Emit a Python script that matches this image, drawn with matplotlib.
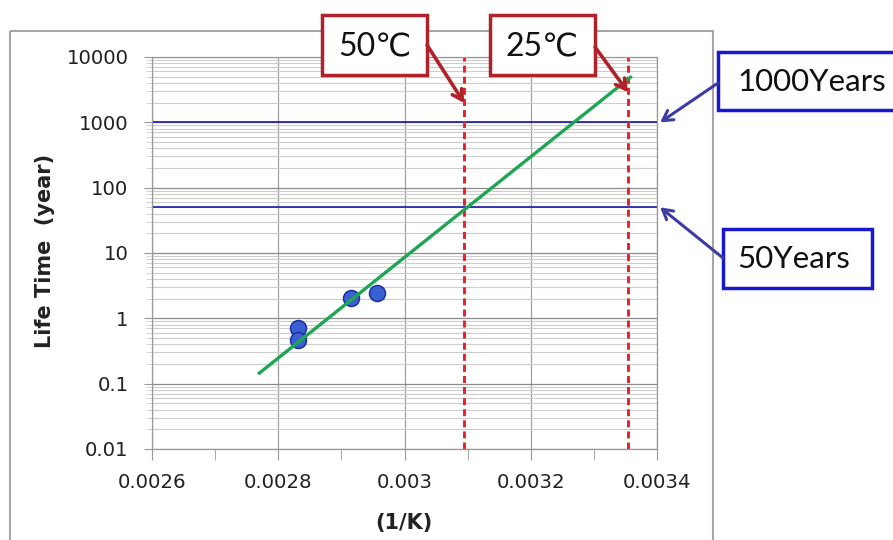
import matplotlib.pyplot as plt
from matplotlib.patches import Rectangle
from matplotlib.ticker import FixedLocator, NullFormatter, LogLocator

# measured points (1/K vs lifetime in years)
inv_temp = [0.002832, 0.002832, 0.002915, 0.002957]
life_years = [0.70, 0.47, 2.05, 2.4]

# fitted Arrhenius line (end points)
fit_x = [0.00277, 0.003358]
fit_y = [0.145, 4900]

# reference temperatures (1/K) and lifetimes (years)
temp_lines = [1 / 323.15, 1 / 298.15]
temp_labels = ['50℃', '25℃']
temp_arrow_y = [1980, 2900]
limit_years = [1000, 50]
limit_labels = ['1000Years', '50Years']

xticks = [0.0026, 0.0028, 0.0030, 0.0032, 0.0034]
xticklabels = ['0.0026', '0.0028', '0.003', '0.0032', '0.0034']
yticks = [0.01, 0.1, 1, 10, 100, 1000, 10000]
yticklabels = ['0.01', '0.1', '1', '10', '100', '1000', '10000']

W, H = 893, 540
fig = plt.figure(figsize=(W / 100, H / 100), dpi=100)
ax = fig.add_axes([152 / W, 1 - 449 / H, (657 - 152) / W, (449 - 57) / H])

ax.set_yscale('log')
ax.set_xlim(0.0026, 0.0034)
ax.set_ylim(0.01, 10000)

ax.xaxis.set_major_locator(FixedLocator(xticks))
ax.set_xticklabels(xticklabels)
ax.xaxis.set_minor_locator(FixedLocator([0.0027, 0.0029, 0.0031, 0.0033]))
ax.yaxis.set_major_locator(FixedLocator(yticks))
ax.set_yticklabels(yticklabels)
ax.yaxis.set_minor_locator(LogLocator(base=10, subs=range(2, 10), numticks=20))
ax.yaxis.set_minor_formatter(NullFormatter())

ax.tick_params(axis='both', which='major', labelsize=14.2, colors='#999999',
               labelcolor='#222222', width=0.8)
ax.tick_params(axis='x', which='both', direction='out', length=8, pad=9,
               colors='#999999', labelcolor='#222222')
ax.tick_params(axis='y', which='major', direction='out', length=6, pad=11)
ax.tick_params(axis='y', which='minor', direction='out', length=4, colors='#cccccc')

ax.grid(True, which='major', axis='y', color='#8c8c8c', lw=0.9)
ax.grid(True, which='minor', axis='y', color='#cdcdcd', lw=0.8)
ax.grid(True, which='major', axis='x', color='#a0a0a0', lw=0.9)
for s in ax.spines.values():
    s.set_color('#999999')
    s.set_linewidth(0.9)
ax.set_axisbelow(True)

for v in limit_years:
    ax.axhline(v, color='#1a1aa6', lw=1.2, zorder=2)
for v in temp_lines:
    ax.axvline(v, color='#e8202a', lw=2.1, dashes=(2.4, 1.4), zorder=2)

ax.plot(inv_temp, life_years, 'o', ms=11.5, mfc='#3b60d2', mec='#1a30a0',
        mew=1.1, zorder=3)
ax.plot(fit_x, fit_y, color='#1ea653', lw=2.4, zorder=4)

fig.text(45 / W, 1 - 251 / H, 'Life Time  (year)', rotation=90, ha='center',
         va='center', fontsize=15, fontweight='bold', color='#222222')
fig.text(404 / W, 1 - 523 / H, '(1/K)', ha='center', va='center',
         fontsize=15, fontweight='bold', color='#222222')

# overlay in pixel coordinates for the frame, boxes and arrows
ov = fig.add_axes([0, 0, 1, 1], zorder=5)
ov.set_xlim(0, W)
ov.set_ylim(H, 0)
ov.axis('off')
ov.add_patch(Rectangle((10, 31), 703, 520, fill=False, ec='#a6a6a6', lw=1.5))

box_font = ['Lato', 'DejaVu Sans']
red = '#b0222a'
temp_boxes = [(322, 15, 105, 60), (490, 15, 105, 60)]
temp_starts = [(427, 45), (595, 47)]
for lab, xv, yv, (bx, by, bw, bh), st in zip(temp_labels, temp_lines, temp_arrow_y,
                                           temp_boxes, temp_starts):
    ov.add_patch(Rectangle((bx, by), bw, bh, fc='white', ec=red, lw=2.5))
    ov.text(bx + bw / 2, by + bh / 2 + 1, lab, ha='center', va='center',
            fontsize=23, family=box_font, color='#111111')
    ov.annotate('', xy=(xv, yv), xycoords=ax.transData, xytext=st,
                textcoords='data',
                arrowprops=dict(arrowstyle='->,head_length=0.7,head_width=0.4',
                                color=red, lw=2.6, shrinkA=0, shrinkB=0))

blue = '#1818d0'
limit_boxes = [(718, 52, 180, 58), (723, 229, 149, 59)]
limit_starts = [(718, 83), (723, 258)]
for lab, yv, (bx, by, bw, bh), st in zip(limit_labels, limit_years, limit_boxes,
                                        limit_starts):
    ov.add_patch(Rectangle((bx, by), bw, bh, fc='white', ec=blue, lw=2.5,
                           clip_on=False))
    ov.text(bx + (19 if bw > 160 else 14), by + bh / 2 + 1, lab, ha='left',
            va='center', fontsize=22.5, family=box_font, color='#111111')
    ov.annotate('', xy=(0.003405, yv), xycoords=ax.transData, xytext=st,
                textcoords='data',
                arrowprops=dict(arrowstyle='->,head_length=0.7,head_width=0.4',
                                color='#3c3ca4', lw=2.2, shrinkA=0, shrinkB=0))

fig.savefig('out.png', dpi=100)
